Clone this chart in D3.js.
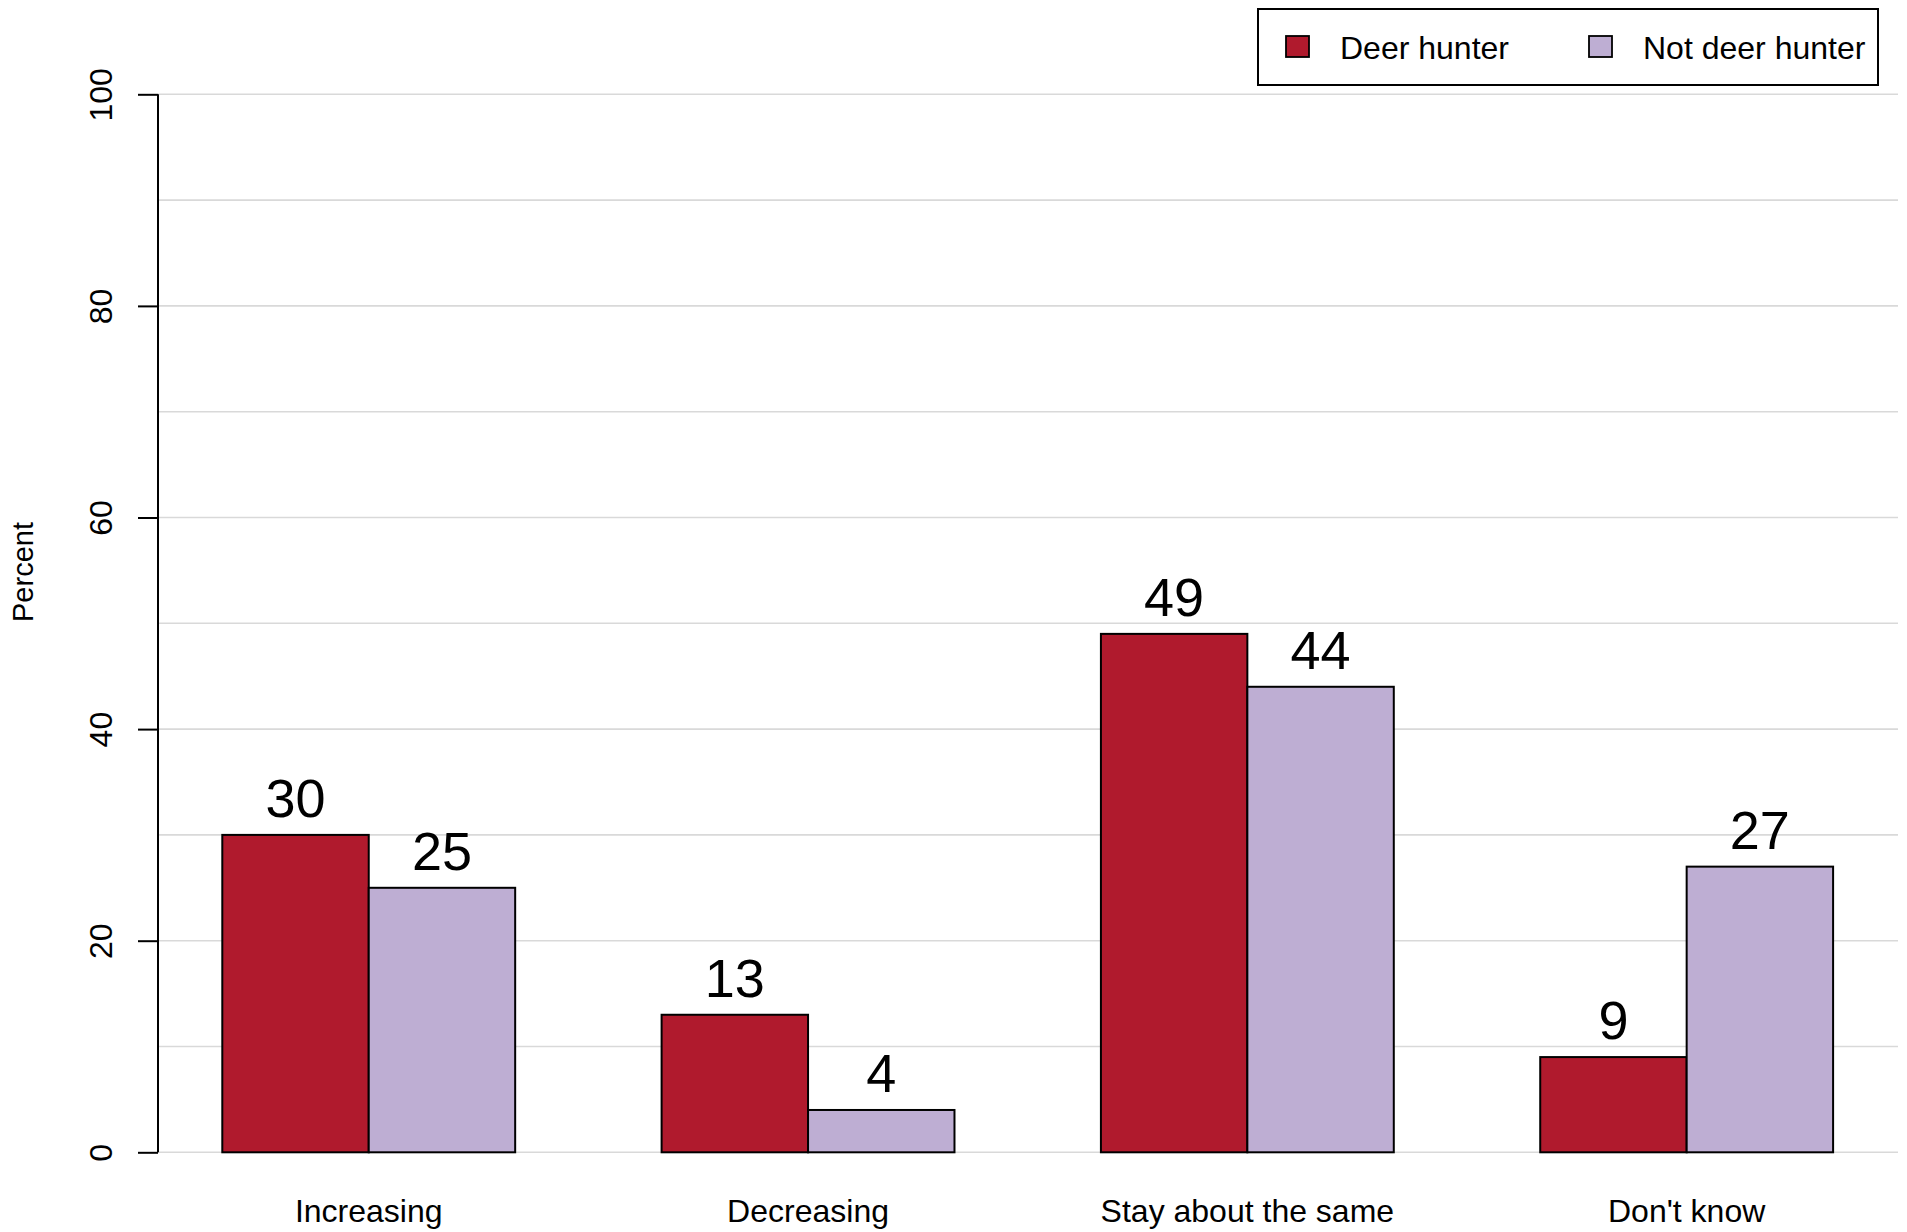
<!DOCTYPE html>
<html>
<head>
<meta charset="utf-8">
<script src="https://cdn.jsdelivr.net/npm/d3@7"></script>
<style>
  html, body { margin: 0; padding: 0; background: #fff; }
  svg { display: block; font-family: "Liberation Sans", Arial, Helvetica, sans-serif; }
</style>
</head>
<body>
<svg id="chart" width="1907" height="1232"></svg>
<script>
const categories = ["Increasing", "Decreasing", "Stay about the same", "Don't know"];
const seriesNames = ["Deer hunter", "Not deer hunter"];
const deerHunter = [30, 13, 49, 9];
const notDeerHunter = [25, 4, 44, 27];
const yTicks = [0, 20, 40, 60, 80, 100];
const gridTicks = [0, 10, 20, 30, 40, 50, 60, 70, 80, 90, 100];
const colors = ["#B01A2D", "#BEAED3"];

const svg = d3.select("#chart");
const axisX = 158, plotRight = 1898;

const y = d3.scaleLinear().domain([0, 100]).range([1152.3, 94.3]);
const x0 = d3.scaleBand().domain(categories).range([222.3, 1833.1]).paddingInner(1/3).paddingOuter(0);
const x1 = d3.scaleBand().domain(seriesNames).range([0, x0.bandwidth()]).padding(0);
const color = d3.scaleOrdinal().domain(seriesNames).range(colors);

// gridlines
svg.append("g").selectAll("line").data(gridTicks).join("line")
  .attr("x1", axisX).attr("x2", plotRight)
  .attr("y1", d => y(d)).attr("y2", d => y(d))
  .attr("stroke", "#d9d9d9").attr("stroke-width", 1.6);

// y axis
const yAxis = d3.axisLeft(y).tickValues(yTicks).tickSize(20).tickPadding(0).tickFormat(d3.format("d"));
const ga = svg.append("g").attr("transform", `translate(${axisX},0)`).call(yAxis);
ga.select(".domain").attr("stroke", "#000").attr("stroke-width", 2).attr("d", `M0,${y(100)}V${y(0)}`);
ga.selectAll(".tick line").attr("stroke", "#000").attr("stroke-width", 2);
ga.selectAll(".tick text").remove();
ga.selectAll(".tick").append("text")
  .attr("transform", "translate(-46,0) rotate(-90)")
  .attr("text-anchor", "middle")
  .attr("fill", "#000")
  .attr("font-size", 32)
  .text(d => d);

// y title
svg.append("text")
  .attr("transform", `translate(33,${572}) rotate(-90)`)
  .attr("text-anchor", "middle")
  .attr("font-size", 29)
  .attr("fill", "#000")
  .text("Percent");

// bars
const rows = categories.map((c, i) => ({ cat: c, vals: [
  { s: seriesNames[0], v: deerHunter[i] },
  { s: seriesNames[1], v: notDeerHunter[i] }
]}));

const groups = svg.append("g").selectAll("g").data(rows).join("g")
  .attr("transform", d => `translate(${x0(d.cat)},0)`);

groups.selectAll("rect").data(d => d.vals).join("rect")
  .attr("x", d => x1(d.s))
  .attr("y", d => y(d.v))
  .attr("width", x1.bandwidth())
  .attr("height", d => y(0) - y(d.v))
  .attr("fill", d => color(d.s))
  .attr("stroke", "#000")
  .attr("stroke-width", 2);

groups.selectAll("text.val").data(d => d.vals).join("text")
  .attr("class", "val")
  .attr("x", d => x1(d.s) + x1.bandwidth() / 2)
  .attr("y", d => y(d.v) - 18)
  .attr("text-anchor", "middle")
  .attr("font-size", 54)
  .attr("fill", "#000")
  .text(d => d.v);

// category labels
svg.append("g").selectAll("text").data(categories).join("text")
  .attr("x", d => x0(d) + x0.bandwidth() / 2)
  .attr("y", 1222)
  .attr("text-anchor", "middle")
  .attr("font-size", 32)
  .attr("fill", "#000")
  .text(d => d);

// legend
const lg = svg.append("g");
lg.append("rect").attr("x", 1258).attr("y", 9).attr("width", 620).attr("height", 76)
  .attr("fill", "#fff").attr("stroke", "#000").attr("stroke-width", 2);
const legX = [1286, 1589];
const li = lg.selectAll("g.item").data(seriesNames).join("g").attr("class", "item")
  .attr("transform", (d, i) => `translate(${legX[i]},36)`);
li.append("rect").attr("width", 23).attr("height", 21)
  .attr("fill", d => color(d)).attr("stroke", "#000").attr("stroke-width", 1.8);
li.append("text").attr("x", 54).attr("y", 11).attr("dy", "0.36em")
  .attr("font-size", 32).attr("fill", "#000").text(d => d);
</script>
</body>
</html>
